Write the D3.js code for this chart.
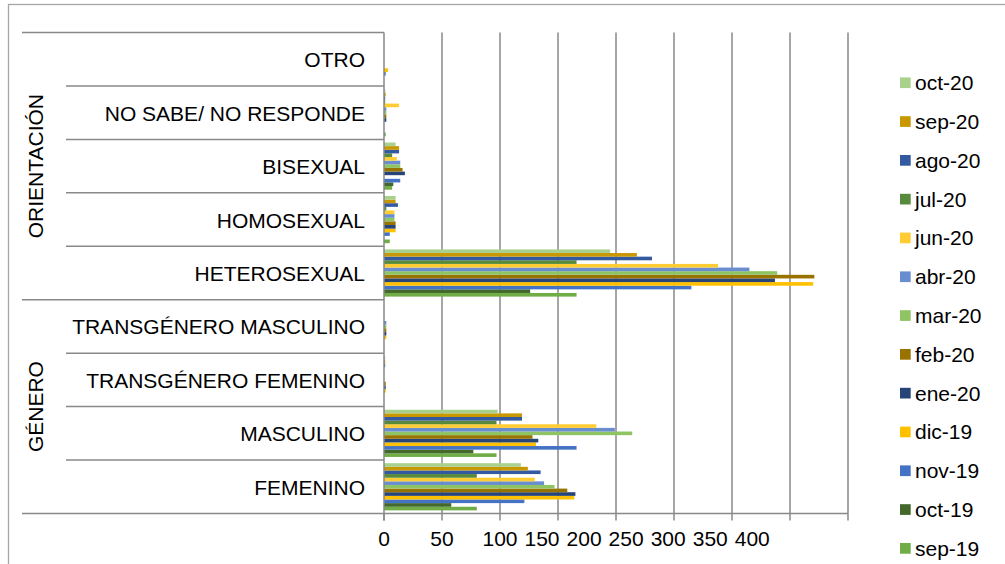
<!DOCTYPE html>
<html>
<head>
<meta charset="utf-8">
<script src="https://cdn.jsdelivr.net/npm/d3@7"></script>
<style>
  html, body { margin: 0; padding: 0; background: #fff; }
  svg text { font-family: "Liberation Sans", Arial, sans-serif; fill: #000; }
</style>
</head>
<body>
<svg id="chart" width="1005" height="564"></svg>
<script>
// ---------- data ----------
const categories = ["FEMENINO", "MASCULINO", "TRANSGÉNERO FEMENINO", "TRANSGÉNERO MASCULINO",
  "HETEROSEXUAL", "HOMOSEXUAL", "BISEXUAL", "NO SABE/ NO RESPONDE", "OTRO"];
const categoryGroup = ["GÉNERO", "GÉNERO", "GÉNERO", "GÉNERO",
  "ORIENTACIÓN", "ORIENTACIÓN", "ORIENTACIÓN", "ORIENTACIÓN", "ORIENTACIÓN"];
const groupNames = ["GÉNERO", "ORIENTACIÓN"];

const seriesNames = ["sep-19", "oct-19", "nov-19", "dic-19", "ene-20", "feb-20", "mar-20",
  "abr-20", "jun-20", "jul-20", "ago-20", "sep-20", "oct-20"];
const seriesColors = ["#70AD47", "#43682B", "#4472C4", "#FFC000", "#264478", "#997300", "#8FC465",
  "#698ED0", "#FFCD33", "#588A3C", "#335AA1", "#C99700", "#A9D18E"];

// values per series, in category order
const sep19 = [80, 97, 0, 0, 166, 5, 7, 1.5, 0];
const oct19 = [58, 77, 0, 0, 126, 0, 8, 0, 0];
const nov19 = [121, 166, 0, 0, 265, 5, 14, 0, 1.5];
const dic19 = [164, 131, 1.5, 2, 370, 10, 0, 0, 3.5];
const ene20 = [165, 133, 1.5, 2, 337, 10, 18, 2, 0];
const feb20 = [158, 128, 1.5, 2, 371, 10, 16, 2, 0];
const mar20 = [147, 214, 0, 2, 339, 9, 14, 2, 0];
const abr20 = [138, 199, 0, 2, 315, 9, 14, 2, 0];
const jun20 = [130, 183, 0, 0, 288, 9, 11, 13, 0];
const jul20 = [80, 97, 0, 0, 166, 2, 7, 1, 0];
const ago20 = [135, 119, 1, 0, 231, 12, 13, 1, 0];
const sep20 = [124, 119, 1, 0, 218, 10, 13, 1.5, 0];
const oct20 = [118, 98, 1, 0, 195, 10, 10, 1, 0];
const seriesValues = [sep19, oct19, nov19, dic19, ene20, feb20, mar20, abr20, jun20, jul20, ago20, sep20, oct20];

const xTickValues = [0, 50, 100, 150, 200, 250, 300, 350, 400];
const xTickLabels = ["0", "50", "100", "150", "200", "250", "300", "350", "400"];

// ---------- layout ----------
const svg = d3.select("#chart");
const plot = { left: 384, right: 848, top: 32.5, bottom: 513.5 };
const fontSize = 21;
const axisColor = "#898989";

// outer chart border (extends beyond the image on right/bottom)
svg.append("rect").attr("x", 8.5).attr("y", 4.5).attr("width", 1100).attr("height", 700)
  .attr("fill", "none").attr("stroke", "#a6a6a6").attr("stroke-width", 1.3);

const x = d3.scaleLinear().domain([0, 400]).range([plot.left, plot.right]);

// categories: OTRO at top
const y = d3.scaleBand().domain(categories.slice().reverse())
  .range([plot.top, plot.bottom]).paddingInner(0).paddingOuter(0);
// series within each category: first series at the bottom
const ySub = d3.scaleBand().domain(seriesNames.slice().reverse())
  .range([0, y.bandwidth()]).paddingInner(0).paddingOuter(0.86);

// vertical gridlines
svg.append("g").selectAll("line").data(xTickValues.slice(1)).join("line")
  .attr("x1", d => x(d)).attr("x2", d => x(d))
  .attr("y1", plot.top).attr("y2", plot.bottom)
  .attr("stroke", axisColor).attr("stroke-width", 1.5);

// bars
const barData = [];
seriesNames.forEach((s, si) => {
  categories.forEach((c, ci) => {
    barData.push({ s, c, v: seriesValues[si][ci], color: seriesColors[si] });
  });
});
svg.append("g").selectAll("rect").data(barData).join("rect")
  .attr("x", x(0))
  .attr("y", d => y(d.c) + ySub(d.s))
  .attr("width", d => x(d.v) - x(0))
  .attr("height", ySub.bandwidth())
  .attr("fill", d => d.color);

// bottom axis line and ticks
const axisG = svg.append("g");
axisG.append("line").attr("x1", plot.left).attr("x2", plot.right)
  .attr("y1", plot.bottom).attr("y2", plot.bottom)
  .attr("stroke", axisColor).attr("stroke-width", 1.5);
axisG.selectAll("line.tick").data(xTickValues).join("line").attr("class", "tick")
  .attr("x1", d => x(d)).attr("x2", d => x(d))
  .attr("y1", plot.bottom).attr("y2", plot.bottom + 7)
  .attr("stroke", axisColor).attr("stroke-width", 1.5);

// tick labels (the reference packs labels from 150 onward next to each other)
const tickTexts = axisG.selectAll("text.tl").data(xTickLabels).join("text").attr("class", "tl")
  .attr("y", 546).attr("font-size", fontSize).text(d => d);
let prevRight = -Infinity;
tickTexts.each(function (d, i) {
  const w = this.getComputedTextLength();
  let left;
  if (i < 3) left = x(xTickValues[i]) - w / 2;
  else left = prevRight + 7;
  d3.select(this).attr("x", left);
  prevRight = left + w;
});

// vertical category axis line
svg.append("line").attr("x1", plot.left).attr("x2", plot.left)
  .attr("y1", plot.top).attr("y2", plot.bottom + 7)
  .attr("stroke", axisColor).attr("stroke-width", 1.5);

// category separators
const catDomain = y.domain();
const boundaries = [];
for (let i = 0; i <= catDomain.length; i++) {
  const yy = i < catDomain.length ? y(catDomain[i]) : plot.bottom;
  const above = i > 0 ? categoryGroup[categories.indexOf(catDomain[i - 1])] : null;
  const below = i < catDomain.length ? categoryGroup[categories.indexOf(catDomain[i])] : null;
  boundaries.push({ y: yy, outer: above !== below });
}
svg.append("g").selectAll("line").data(boundaries).join("line")
  .attr("x1", d => d.outer ? 22 : 66).attr("x2", plot.left)
  .attr("y1", d => d.y).attr("y2", d => d.y)
  .attr("stroke", axisColor).attr("stroke-width", 1.5);

// category labels
svg.append("g").selectAll("text").data(categories).join("text")
  .attr("x", 365).attr("y", d => y(d) + y.bandwidth() / 2 + 8)
  .attr("text-anchor", "end").attr("font-size", fontSize).text(d => d);

// group labels
groupNames.forEach(g => {
  const members = categories.filter((c, i) => categoryGroup[i] === g);
  const ys = members.map(c => y(c));
  const top = d3.min(ys), bottom = d3.max(ys) + y.bandwidth();
  const cy = (top + bottom) / 2;
  svg.append("text")
    .attr("transform", `translate(43,${cy}) rotate(-90)`)
    .attr("text-anchor", "middle").attr("font-size", fontSize).text(g);
});

// legend (reverse order: oct-20 on top)
const legendOrder = seriesNames.map((s, i) => ({ s, color: seriesColors[i] })).reverse();
const legendY = d3.scalePoint().domain(legendOrder.map(d => d.s)).range([82.7, 548.3]);
const lg = svg.append("g").selectAll("g").data(legendOrder).join("g")
  .attr("transform", d => `translate(0,${legendY(d.s)})`);
lg.append("rect").attr("x", 900).attr("y", -5.3).attr("width", 10.7).attr("height", 10.7)
  .attr("fill", d => d.color);
lg.append("text").attr("x", 915).attr("y", 7.5).attr("font-size", fontSize).text(d => d.s);
</script>
</body>
</html>
